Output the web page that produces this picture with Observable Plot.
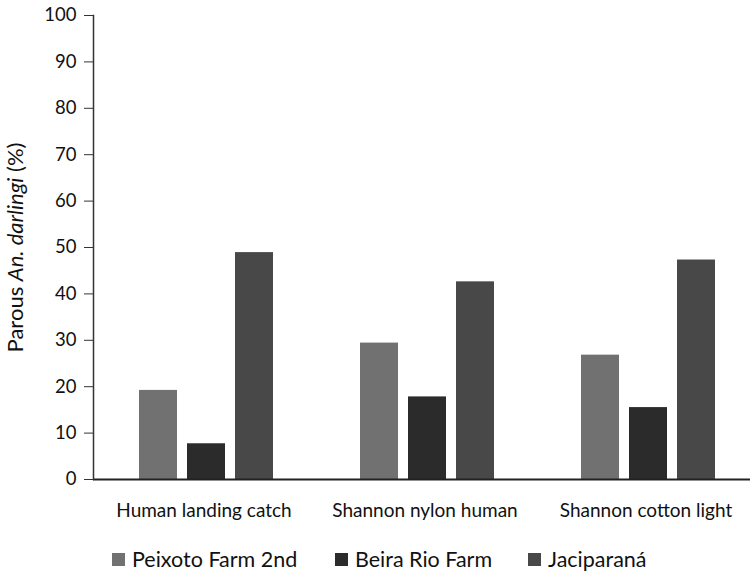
<!DOCTYPE html>
<html>
<head>
<meta charset="utf-8">
<script src="https://cdn.jsdelivr.net/npm/d3@7"></script>
<script src="https://cdn.jsdelivr.net/npm/@observablehq/plot@0.6"></script>
<style>
  html, body { margin: 0; padding: 0; background: #fff; }
  #wrap { position: relative; width: 750px; height: 572px; font-family: Lato, sans-serif; }
  #legend { position: absolute; left: 0; top: 0; width: 750px; height: 572px; pointer-events: none; }
  .li { position: absolute; display: flex; align-items: center; font-size: 21.5px; color: #111; white-space: nowrap; }
  .sw { width: 13px; height: 13px; margin-right: 7px; }
</style>
</head>
<body>
<div id="wrap"><div id="chart"></div><div id="legend"></div></div>
<script>
const groups = ["Human landing catch", "Shannon nylon human", "Shannon cotton light"];
const series = ["Peixoto Farm 2nd", "Beira Rio Farm", "Jaciparaná"];
const peixoto = [19.2, 29.4, 26.8];
const beiraRio = [7.7, 17.8, 15.5];
const jaciparana = [48.9, 42.6, 47.3];
const yTicks = [0, 10, 20, 30, 40, 50, 60, 70, 80, 90, 100];
const colors = ["#717171", "#2b2b2b", "#484848"];
const legendLeft = [112, 335, 528];

const valuesBySeries = [peixoto, beiraRio, jaciparana];
const data = groups.flatMap((g, i) =>
  series.map((s, j) => ({group: g, series: s, value: valuesBySeries[j][i]}))
);

const chart = Plot.plot({
  width: 750,
  height: 530,
  marginLeft: 93,
  marginRight: -6,
  marginTop: 15,
  marginBottom: 51,
  style: {fontFamily: "Lato, sans-serif", color: "#111", background: "#fff"},
  y: {domain: [0, 100]},
  fx: {domain: groups, padding: 0},
  x: {domain: series, paddingInner: 0.206, paddingOuter: 0.881, align: 0.53, axis: null},
  color: {domain: series, range: colors},
  marks: [
    Plot.barY(data, {fx: "group", x: "series", y: "value", fill: "series"}),
    Plot.ruleY([0], {stroke: "#222", strokeWidth: 2}),
    Plot.frame({anchor: "left", facetAnchor: "left", stroke: "#333", strokeWidth: 1.5}),
    Plot.axisY({ticks: yTicks, tickSize: 9, tickPadding: 8, fontSize: 18.5, stroke: "#333",
      label: "Parous An. darlingi (%)", labelAnchor: "center", labelArrow: "none", labelOffset: 86,
      facetAnchor: "left"}),
    Plot.axisFx({anchor: "bottom", tickSize: 0, tickPadding: 24, fontSize: 19, label: null})
  ]
});
document.getElementById("chart").appendChild(chart);

// italicize "An. darlingi" in the y-axis label
const svg = d3.select(chart);
svg.selectAll("g[aria-label='y-axis label'] text").each(function () {
  const t = d3.select(this);
  t.text(null).style("font-size", "22px");
  t.append("tspan").text("Parous ");
  t.append("tspan").attr("font-style", "italic").text("An. darlingi");
  t.append("tspan").text(" (%)");
});

const legend = d3.select("#legend");
series.forEach((s, i) => {
  const item = legend.append("div").attr("class", "li")
    .style("left", legendLeft[i] + "px").style("top", "546px");
  item.append("div").attr("class", "sw").style("background", colors[i]);
  item.append("span").text(s);
});
</script>
</body>
</html>
